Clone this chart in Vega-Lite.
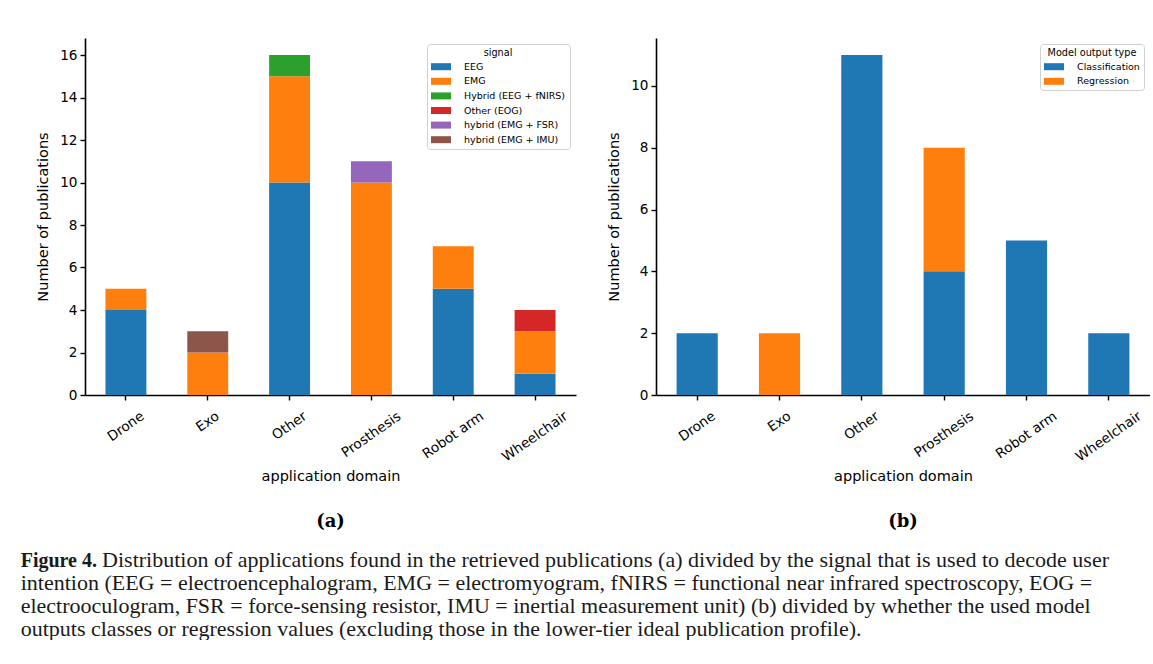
{
  "$schema": "https://vega.github.io/schema/vega-lite/v6.json",
  "background": "white",
  "padding": {"left": 20, "top": 38, "right": 0, "bottom": 0},
  "autosize": {"type": "pad"},
  "spacing": 30,
  "resolve": {"scale": {"color": "independent"}, "legend": {"color": "independent"}},
  "title": {
    "text": "Figure 4.",
    "subtitle": [
      "\u200b\u2003\u2003\u2003\u2002\u2009Distribution of applications found in the retrieved publications (a) divided by the signal that is used to decode user",
      "intention (EEG = electroencephalogram, EMG = electromyogram, fNIRS = functional near infrared spectroscopy, EOG =",
      "electrooculogram, FSR = force-sensing resistor, IMU = inertial measurement unit) (b) divided by whether the used model",
      "outputs classes or regression values (excluding those in the lower-tier ideal publication profile)."
    ],
    "orient": "bottom", "anchor": "start", "frame": "bounds", "dx": -15, "offset": 20,
    "font": "Liberation Serif", "fontSize": 20, "fontWeight": "bold", "color": "#1a1a1a",
    "subtitleFont": "Liberation Serif", "subtitleFontSize": 22, "subtitleFontWeight": "normal", "subtitleColor": "#1a1a1a",
    "subtitleLineHeight": 23, "subtitlePadding": -21.4
  },
  "config": {
    "view": {"stroke": null},
    "axis": {
      "domainColor": "black", "domainWidth": 1.6,
      "tickColor": "black", "tickWidth": 1.4, "tickSize": 5,
      "labelFont": "DejaVu Sans", "labelFontSize": 13.6, "labelColor": "black",
      "titleFont": "DejaVu Sans", "titleFontSize": 14.5, "titleFontWeight": "normal", "titleColor": "black",
      "grid": false, "labelPadding": 3
    },
    "axisX": {
      "labelAngle": -35, "labelAlign": "center", "labelBaseline": "middle",
      "titlePadding": 6, "labelOverlap": false
    },
    "axisY": {"titlePadding": 9},
    "legend": {
      "orient": "top-right", "offset": 6,
      "fillColor": "white", "strokeColor": "#d0d0d0", "cornerRadius": 3, "padding": 4,
      "titleFont": "DejaVu Sans", "titleFontSize": 9.7, "titleFontWeight": "normal", "titleColor": "black",
      "titleAnchor": "middle", "titlePadding": 4,
      "labelFont": "DejaVu Sans", "labelFontSize": 9.5, "labelColor": "black",
      "symbolType": "M-2,-0.7H2V0.7H-2Z", "symbolSize": 100, "symbolStrokeWidth": 0, "symbolOffset": 5,
      "labelOffset": 18, "rowPadding": 4.6
    }
  },
  "hconcat": [
    {
      "width": 491, "height": 357,
      "title": {"text": "(a)", "orient": "bottom", "offset": 30, "font": "DejaVu Serif", "fontSize": 18, "fontWeight": "bold", "color": "black"},
      "data": {"values": [
        {"domain": "Drone", "signal": "EEG", "count": 4},
        {"domain": "Drone", "signal": "EMG", "count": 1},
        {"domain": "Exo", "signal": "EMG", "count": 2},
        {"domain": "Exo", "signal": "hybrid (EMG + IMU)", "count": 1},
        {"domain": "Other", "signal": "EEG", "count": 10},
        {"domain": "Other", "signal": "EMG", "count": 5},
        {"domain": "Other", "signal": "Hybrid (EEG + fNIRS)", "count": 1},
        {"domain": "Prosthesis", "signal": "EMG", "count": 10},
        {"domain": "Prosthesis", "signal": "hybrid (EMG + FSR)", "count": 1},
        {"domain": "Robot arm", "signal": "EEG", "count": 5},
        {"domain": "Robot arm", "signal": "EMG", "count": 2},
        {"domain": "Wheelchair", "signal": "EEG", "count": 1},
        {"domain": "Wheelchair", "signal": "EMG", "count": 2},
        {"domain": "Wheelchair", "signal": "Other (EOG)", "count": 1}
      ]},
      "mark": {"type": "bar"},
      "encoding": {
        "x": {
          "field": "domain", "type": "nominal", "title": "application domain",
          "sort": ["Drone", "Exo", "Other", "Prosthesis", "Robot arm", "Wheelchair"],
          "scale": {"paddingInner": 0.5, "paddingOuter": 0.25},
          "axis": {"labelPadding": {"condition": [
            {"test": "datum.label == 'Exo'", "value": 21.5},
            {"test": "datum.label == 'Drone'", "value": 26.3},
            {"test": "datum.label == 'Other'", "value": 25.5},
            {"test": "datum.label == 'Prosthesis'", "value": 34.3},
            {"test": "datum.label == 'Robot arm'", "value": 34.9}
          ], "value": 36.3}}
        },
        "y": {
          "field": "count", "type": "quantitative", "stack": "zero", "title": "Number of publications",
          "scale": {"domain": [0, 16.8], "nice": false},
          "axis": {"values": [0, 2, 4, 6, 8, 10, 12, 14, 16]}
        },
        "color": {
          "field": "signal", "type": "nominal", "title": "signal",
          "scale": {
            "domain": ["EEG", "EMG", "Hybrid (EEG + fNIRS)", "Other (EOG)", "hybrid (EMG + FSR)", "hybrid (EMG + IMU)"],
            "range": ["#1f77b4", "#ff7f0e", "#2ca02c", "#d62728", "#9467bd", "#8c564b"]
          }
        },
        "order": {"field": "signal", "sort": "ascending"}
      }
    },
    {
      "width": 494, "height": 357,
      "title": {"text": "(b)", "orient": "bottom", "offset": 30, "font": "DejaVu Serif", "fontSize": 18, "fontWeight": "bold", "color": "black"},
      "data": {"values": [
        {"domain": "Drone", "type": "Classification", "count": 2},
        {"domain": "Exo", "type": "Regression", "count": 2},
        {"domain": "Other", "type": "Classification", "count": 11},
        {"domain": "Prosthesis", "type": "Classification", "count": 4},
        {"domain": "Prosthesis", "type": "Regression", "count": 4},
        {"domain": "Robot arm", "type": "Classification", "count": 5},
        {"domain": "Wheelchair", "type": "Classification", "count": 2}
      ]},
      "mark": {"type": "bar"},
      "encoding": {
        "x": {
          "field": "domain", "type": "nominal", "title": "application domain",
          "sort": ["Drone", "Exo", "Other", "Prosthesis", "Robot arm", "Wheelchair"],
          "scale": {"paddingInner": 0.5, "paddingOuter": 0.25},
          "axis": {"labelPadding": {"condition": [
            {"test": "datum.label == 'Exo'", "value": 21.5},
            {"test": "datum.label == 'Drone'", "value": 26.3},
            {"test": "datum.label == 'Other'", "value": 25.5},
            {"test": "datum.label == 'Prosthesis'", "value": 34.3},
            {"test": "datum.label == 'Robot arm'", "value": 34.9}
          ], "value": 36.3}}
        },
        "y": {
          "field": "count", "type": "quantitative", "stack": "zero", "title": "Number of publications",
          "scale": {"domain": [0, 11.55], "nice": false},
          "axis": {"values": [0, 2, 4, 6, 8, 10]}
        },
        "color": {
          "field": "type", "type": "nominal", "title": "Model output type",
          "scale": {"domain": ["Classification", "Regression"], "range": ["#1f77b4", "#ff7f0e"]}
        },
        "order": {"field": "type", "sort": "ascending"}
      }
    }
  ]
}
